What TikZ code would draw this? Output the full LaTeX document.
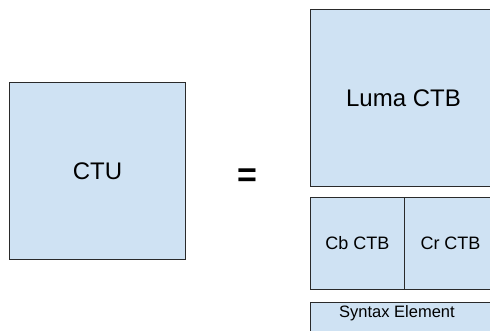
\documentclass[tikz,border=0pt]{standalone}
\usepackage{fontspec}
\setmainfont{Liberation Sans}
\definecolor{ctbfill}{HTML}{CFE2F3}
\definecolor{ctbline}{HTML}{2A2A2A}

\begin{document}
\begin{tikzpicture}[x=1pt,y=-1pt,
  ctbbox/.style={draw=ctbline,fill=ctbfill,line width=1pt,inner sep=0pt,anchor=north west}]
\path[use as bounding box,clip] (0,0) rectangle (490,330);
\node[ctbbox,minimum width=176,minimum height=177,font=\fontsize{24}{26}\selectfont] (ctu) at (9,82) {CTU};
\node[font=\bfseries\fontsize{34}{40}\selectfont] (eq) at (247,178) {=};
\node[ctbbox,minimum width=186,minimum height=177,font=\fontsize{24}{26}\selectfont] (luma) at (310,9) {Luma CTB};
\node[ctbbox,minimum width=94,minimum height=92,font=\fontsize{18}{20}\selectfont] (cb) at (310,197) {Cb CTB};
\node[ctbbox,minimum width=92,minimum height=92,font=\fontsize{18}{20}\selectfont] (cr) at (404,197) {Cr CTB};
\node[ctbbox,minimum width=186,minimum height=40] (syntax) at (310,302) {};
\node[font=\fontsize{16.5}{18}\selectfont] (syntaxlbl) at (397,313) {Syntax Element};
\end{tikzpicture}
\end{document}
